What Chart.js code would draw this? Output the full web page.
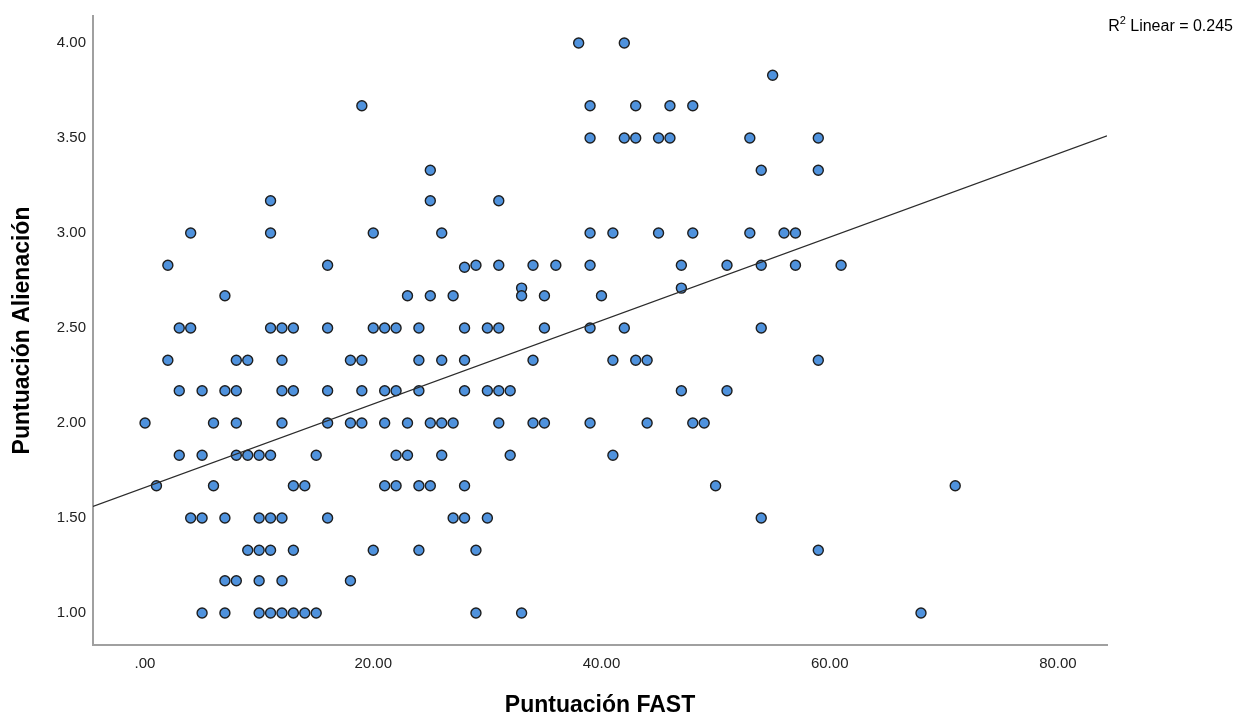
<!DOCTYPE html>
<html>
<head>
<meta charset="utf-8">
<script src="https://cdn.jsdelivr.net/npm/chart.js@4"></script>
<style>
  html, body { margin: 0; padding: 0; background: #ffffff; }
  #wrap { width: 1245px; height: 717px; position: relative; }
</style>
</head>
<body>
<div id="wrap"><canvas id="c" width="1245" height="717"></canvas></div>
<script>
// ---- Data ----
// Puntuación Alienación levels (y) and the Puntuación FAST scores (x) seen at each level
const alienacionLevels = [4.00, 3.83, 3.67, 3.50, 3.33, 3.17, 3.00, 2.83, 2.82, 2.71, 2.67,
                          2.50, 2.33, 2.17, 2.00, 1.83, 1.67, 1.50, 1.33, 1.17, 1.00];
const fastAtLevel = [
  [38, 42],
  [55],
  [19, 39, 43, 46, 48],
  [39, 42, 43, 45, 46, 53, 59],
  [25, 54, 59],
  [11, 25, 31],
  [4, 11, 20, 26, 39, 41, 45, 48, 53, 56, 57],
  [2, 16, 29, 31, 34, 36, 39, 47, 51, 54, 57, 61],
  [28],
  [33, 47],
  [7, 23, 25, 27, 33, 35, 40],
  [3, 4, 11, 12, 13, 16, 20, 21, 22, 24, 28, 30, 31, 35, 39, 42, 54],
  [2, 8, 9, 12, 18, 19, 24, 26, 28, 34, 41, 43, 44, 59],
  [3, 5, 7, 8, 12, 13, 16, 19, 21, 22, 24, 28, 30, 31, 32, 47, 51],
  [0, 6, 8, 12, 16, 18, 19, 21, 23, 25, 26, 27, 31, 34, 35, 39, 44, 48, 49],
  [3, 5, 8, 9, 10, 11, 15, 22, 23, 26, 32, 41],
  [1, 6, 13, 14, 21, 22, 24, 25, 28, 50, 71],
  [4, 5, 7, 10, 11, 12, 16, 27, 28, 30, 54],
  [9, 10, 11, 13, 20, 24, 29, 59],
  [7, 8, 10, 12, 18],
  [5, 7, 10, 11, 12, 13, 14, 15, 29, 33, 68]
];
// R² linear fit line, end points (x, y)
const fitLineX = [-4.56, 84.3];
const fitLineY = [1.561, 3.511];
const xTickValues = [0, 20, 40, 60, 80];
const yTickValues = [1.0, 1.5, 2.0, 2.5, 3.0, 3.5, 4.0];
const xAxisTitle = 'Puntuación FAST';
const yAxisTitle = 'Puntuación Alienación';
const rSquaredText = 'Linear = 0.245';

// ---- Build datasets ----
const points = [];
alienacionLevels.forEach((lvl, i) => {
  fastAtLevel[i].forEach(fx => points.push({ x: fx, y: lvl }));
});
const fitLine = fitLineX.map((x, i) => ({ x: x, y: fitLineY[i] }));

const X_MIN = -4.56, X_MAX = 84.3;

const FONT = '"Liberation Sans", Arial, Helvetica, sans-serif';

const r2Plugin = {
  id: 'r2label',
  afterDraw(chart) {
    const ctx = chart.ctx;
    ctx.save();
    ctx.fillStyle = '#000000';
    ctx.textBaseline = 'alphabetic';
    const big = '16px ' + FONT, small = '11px ' + FONT;
    ctx.font = big;
    const wR = ctx.measureText('R').width;
    const wRest = ctx.measureText(' ' + rSquaredText).width;
    ctx.font = small;
    const w2 = ctx.measureText('2').width;
    const right = 1233, base = 31;
    let x = right - (wR + w2 + wRest);
    ctx.font = big; ctx.fillText('R', x, base); x += wR;
    ctx.font = small; ctx.fillText('2', x, base - 7); x += w2;
    ctx.font = big; ctx.fillText(' ' + rSquaredText, x, base);
    ctx.restore();
  }
};

const chart = new Chart(document.getElementById('c'), {
  type: 'scatter',
  data: {
    datasets: [
      {
        type: 'line',
        data: fitLine,
        borderColor: '#2b2b2b',
        borderWidth: 1.2,
        pointRadius: 0,
        fill: false,
        order: 0
      },
      {
        data: points,
        backgroundColor: '#4f92dd',
        borderColor: '#1e1e1e',
        borderWidth: 1.4,
        pointRadius: 5,
        pointHoverRadius: 5,
        order: 1
      }
    ]
  },
  options: {
    responsive: false,
    devicePixelRatio: 1,
    animation: false,
    layout: { padding: { top: 1, right: 138, left: 0, bottom: 0 } },
    plugins: { legend: { display: false }, tooltip: { enabled: false } },
    scales: {
      x: {
        type: 'linear',
        min: X_MIN, max: X_MAX,
        grid: { display: false, drawTicks: false },
        border: { display: true, color: '#a0a0a0', width: 2 },
        afterBuildTicks: (s) => { s.ticks = xTickValues.map(v => ({ value: v })); },
        afterFit: (s) => { s.height = 72; },
        ticks: {
          padding: 10,
          color: '#222',
          font: { family: FONT, size: 15 },
          callback: (v) => (v === 0 ? '.00' : Number(v).toFixed(2))
        },
        title: {
          display: true, text: xAxisTitle, color: '#000',
          font: { family: FONT, size: 23, weight: 'bold', lineHeight: 1 },
          padding: { top: 0, bottom: 0 }
        }
      },
      y: {
        type: 'linear',
        min: 0.8316, max: 4.174,
        grid: { display: false, drawTicks: false },
        border: { display: true, color: '#a0a0a0', width: 2 },
        afterBuildTicks: (s) => { s.ticks = yTickValues.map(v => ({ value: v })); },
        afterFit: (s) => { s.width = 93; },
        ticks: {
          padding: 7,
          color: '#222',
          font: { family: FONT, size: 15 },
          callback: (v) => Number(v).toFixed(2)
        },
        title: {
          display: true, text: yAxisTitle, color: '#000',
          font: { family: FONT, size: 23, weight: 'bold', lineHeight: 1 },
          padding: { top: 11, bottom: 0 }
        }
      }
    }
  },
  plugins: [r2Plugin]
});

// Fit the y range to the laid-out plot area so that 1.00 and 4.00 sit where the reference puts them
(function fitYRange() {
  const area = chart.chartArea;
  const pxPerUnit = (613 - 43) / 3;
  chart.options.scales.y.min = 1 - (area.bottom - 613) / pxPerUnit;
  chart.options.scales.y.max = 4 + (43 - area.top) / pxPerUnit;
  chart.update('none');
})();
</script>
</body>
</html>
